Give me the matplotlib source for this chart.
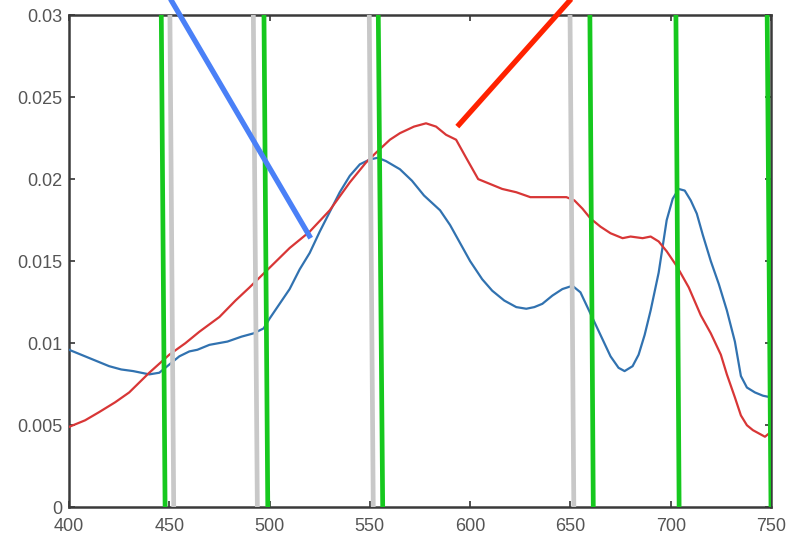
import numpy as np
import matplotlib
matplotlib.use("Agg")
import matplotlib.pyplot as plt

plt.rcParams['font.family'] = ['Liberation Sans', 'DejaVu Sans']

# wavelength (nm) / value pairs
red_x = [400, 408, 415, 423, 430, 440, 450, 458, 465, 475, 483, 490, 500, 510, 520,
         530, 540, 548, 553, 560, 565, 572, 578, 583, 588, 593, 598, 604, 610, 616,
         623, 630, 635, 640, 648, 652, 656, 660, 665, 670, 676, 680, 686, 690, 694,
         698, 703, 709, 715, 720, 725, 728, 732, 735, 738, 741, 744, 747, 749, 750]
red_y = [0.0049, 0.0053, 0.0058, 0.0064, 0.0070, 0.0082, 0.0093, 0.0100, 0.0107, 0.0116,
         0.0126, 0.0134, 0.0146, 0.0158, 0.0168, 0.0181, 0.0198, 0.0210, 0.0216, 0.0224,
         0.0228, 0.0232, 0.0234, 0.0232, 0.0227, 0.0224, 0.0213, 0.0200, 0.0197, 0.0194,
         0.0192, 0.0189, 0.0189, 0.0189, 0.0189, 0.0187, 0.0182, 0.0176, 0.0171, 0.0167,
         0.0164, 0.0165, 0.0164, 0.0165, 0.0162, 0.0156, 0.0147, 0.0134, 0.0117, 0.0106,
         0.0093, 0.0081, 0.0067, 0.0056, 0.0050, 0.0047, 0.0045, 0.0043, 0.0045, 0.0044]

blue_x = [400, 406, 412, 420, 426, 432, 440, 445, 448, 452, 455, 460, 464, 470, 479,
          486, 492, 497, 500, 505, 510, 515, 520, 525, 530, 535, 540, 545, 550, 554,
          558, 565, 571, 577, 585, 590, 595, 600, 606, 611, 617, 623, 628, 632, 636,
          641, 646, 651, 655, 660, 665, 670, 674, 677, 681, 684, 687, 690, 694, 698,
          701, 704, 707, 710, 713, 716, 720, 724, 728, 732, 735, 738, 742, 746, 750]
blue_y = [0.0096, 0.0093, 0.0090, 0.0086, 0.0084, 0.0083, 0.0081, 0.0082, 0.0085, 0.0089,
          0.0092, 0.0095, 0.0096, 0.0099, 0.0101, 0.0104, 0.0106, 0.0109, 0.0115, 0.0124,
          0.0133, 0.0145, 0.0155, 0.0168, 0.0180, 0.0192, 0.0202, 0.0209, 0.0212, 0.0213,
          0.0211, 0.0206, 0.0199, 0.0190, 0.0181, 0.0172, 0.0161, 0.0150, 0.0139, 0.0132,
          0.0126, 0.0122, 0.0121, 0.0122, 0.0124, 0.0129, 0.0133, 0.0135, 0.0131, 0.0118,
          0.0105, 0.0092, 0.0085, 0.0083, 0.0086, 0.0093, 0.0105, 0.0120, 0.0143, 0.0175,
          0.0188, 0.0194, 0.0193, 0.0187, 0.0179, 0.0166, 0.0150, 0.0136, 0.0120, 0.0101,
          0.0080, 0.0073, 0.0070, 0.0068, 0.0067]

# hand drawn marker lines: (x at top, x at bottom)
gray_lines = [(450.3, 452.2), (491.9, 493.9), (549.7, 551.7), (649.8, 651.7)]
green_lines = [(446.0, 447.9), (497.2, 499.1), (554.2, 556.4), (659.7, 661.4),
               (702.6, 704.2), (748.1, 750.0)]

# pointer strokes (x0, y0, x1, y1)
blue_pointer = (449.5, 0.0312, 520.5, 0.0164)
red_pointer = (652.0, 0.0312, 593.6, 0.0232)

xticks = [400, 450, 500, 550, 600, 650, 700, 750]
yticks = [0, 0.005, 0.01, 0.015, 0.02, 0.025, 0.03]
ylabels = ["0", "0.005", "0.01", "0.015", "0.02", "0.025", "0.03"]

fig = plt.figure(figsize=(7.88, 5.34), dpi=100)
ax = fig.add_axes([0.0876, 0.05, 0.8908, 0.9219])

ax.plot(blue_x, blue_y, color="#3172b0", lw=1.6, zorder=3)
ax.plot(red_x, red_y, color="#d83636", lw=1.6, zorder=3)

for xt, xb in gray_lines:
    ax.plot([xt, xb], [0.03, 0], color="#c8c8c8", lw=3.4, zorder=4, solid_capstyle="butt")
for xt, xb in green_lines:
    ax.plot([xt, xb], [0.03, 0], color="#16c81e", lw=3.4, zorder=5, solid_capstyle="butt")

ax.plot(blue_pointer[::2], blue_pointer[1::2], color="#4a80f7", lw=3.8,
        clip_on=False, zorder=6, solid_capstyle="butt")
ax.plot(red_pointer[::2], red_pointer[1::2], color="#ff2200", lw=3.8,
        clip_on=False, zorder=6, solid_capstyle="butt")

ax.set_xlim(400, 750)
ax.set_ylim(0, 0.03)
ax.set_xticks(xticks)
ax.set_xticklabels([str(t) for t in xticks])
ax.set_yticks(yticks)
ax.set_yticklabels(ylabels)
ax.tick_params(direction="in", length=4, width=1.2, colors="#333333",
               labelcolor="#555555", labelsize=13, top=True, right=True)
ax.tick_params(axis="y", pad=5)
ax.tick_params(axis="x", pad=8)
for s in ax.spines.values():
    s.set_color("#3a3a3a")
    s.set_linewidth(1.8)

fig.savefig("out.png", dpi=100)
